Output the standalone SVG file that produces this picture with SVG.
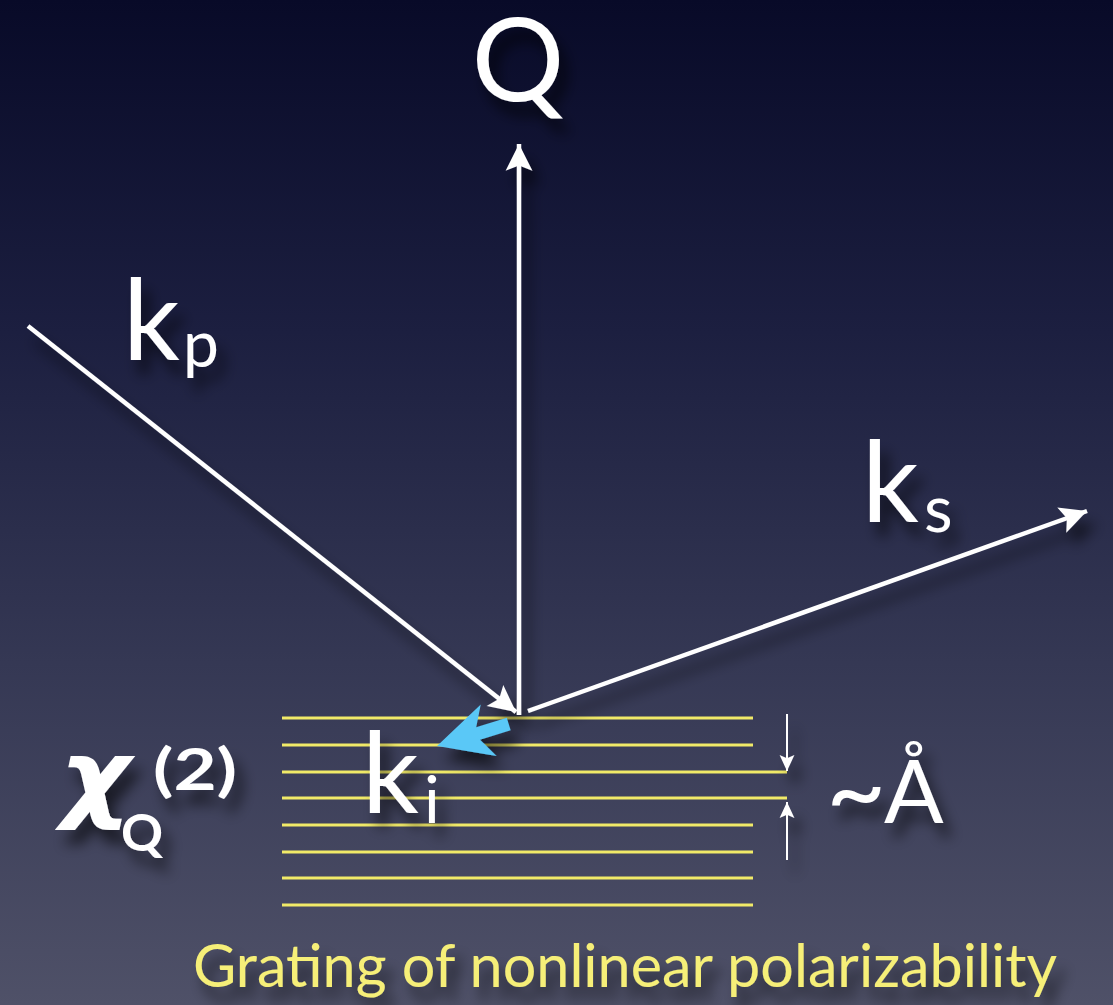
<svg xmlns="http://www.w3.org/2000/svg" width="1113" height="1005" viewBox="0 0 1113 1005">
<defs>
<linearGradient id="bg" x1="0" y1="0" x2="0" y2="1">
<stop offset="0" stop-color="#080a28"/>
<stop offset="0.33" stop-color="#1c1f40"/>
<stop offset="0.66" stop-color="#353854"/>
<stop offset="1" stop-color="#4f5168"/>
</linearGradient>
<filter id="sh" x="-20%" y="-20%" width="150%" height="150%">
<feDropShadow dx="8" dy="14" stdDeviation="7" flood-color="#000" flood-opacity="0.6"/>
</filter>
<marker id="ah" markerUnits="userSpaceOnUse" markerWidth="30" markerHeight="30" viewBox="-26 -14 28 28" refX="0" refY="0" orient="auto">
<path d="M0,0 L-25,-12.5 L-20,0 L-25,12.5 Z" fill="#fff"/>
</marker>
<marker id="ahs" markerUnits="userSpaceOnUse" markerWidth="18" markerHeight="18" viewBox="-16 -8 17 16" refX="0" refY="0" orient="auto">
<path d="M0,0 L-15,-7 L-12,0 L-15,7 Z" fill="#fff"/>
</marker>
<style>
.w{fill:#fff;font-family:Lato,"Open Sans","DejaVu Sans",sans-serif}
.ln{stroke:#fff;stroke-width:4.5;fill:none}
.dim{stroke:#fff;stroke-width:2;fill:none}
.gr{stroke:#f1ea68;stroke-width:3}
</style>
</defs>
<rect width="1113" height="1005" fill="url(#bg)"/>
<g id="grating">
<line class="gr" x1="282" y1="718" x2="753" y2="718"/>
<line class="gr" x1="282" y1="745" x2="753" y2="745"/>
<line class="gr" x1="282" y1="772" x2="787" y2="772"/>
<line class="gr" x1="282" y1="798" x2="787" y2="798"/>
<line class="gr" x1="282" y1="825" x2="753" y2="825"/>
<line class="gr" x1="282" y1="852" x2="753" y2="852"/>
<line class="gr" x1="282" y1="878" x2="753" y2="878"/>
<line class="gr" x1="282" y1="905" x2="753" y2="905"/>
</g>
<g id="connectors" filter="url(#sh)">
<line class="ln" x1="519" y1="715" x2="519" y2="144" marker-end="url(#ah)"/>
<line class="ln" x1="28" y1="326" x2="516" y2="712" marker-end="url(#ah)"/>
<line class="ln" x1="528" y1="711" x2="1087" y2="511" marker-end="url(#ah)"/>
<line class="dim" x1="787" y1="714" x2="787" y2="771" marker-end="url(#ahs)"/>
<line class="dim" x1="787" y1="860" x2="787" y2="802" marker-end="url(#ahs)"/>
</g>
<g id="ki-arrow" filter="url(#sh)">
<polygon transform="translate(437,746) rotate(-17)" points="0,0 54,-27 43,-6.5 75,-6.5 75,6.5 43,6.5 54,27" fill="#5ac8f7"/>
</g>
<g id="label-Q" filter="url(#sh)"><text class="w" x="518" y="101" font-size="116" text-anchor="middle">Q</text></g>
<g id="label-kp" filter="url(#sh)"><text class="w" x="123" y="360" font-size="112">k<tspan x="183" y="367" font-size="64">p</tspan></text></g>
<g id="label-ks" filter="url(#sh)"><text class="w" x="862" y="522" font-size="112">k<tspan x="924" y="532" font-size="66">s</tspan></text></g>
<g id="label-ki" filter="url(#sh)"><text class="w" x="362" y="813" font-size="112">k<tspan x="424" y="823" font-size="66">i</tspan></text></g>
<g id="label-chi" filter="url(#sh)">
<text class="w" x="60" y="810" font-size="98" font-style="italic" font-weight="bold" style="font-family:'DejaVu Sans','Noto Sans',sans-serif" textLength="70" lengthAdjust="spacingAndGlyphs">χ</text>
<text class="w" x="121" y="851" font-size="52" font-weight="bold">Q</text>
<text class="w" x="153" y="790" font-size="58" font-weight="bold" textLength="84" lengthAdjust="spacingAndGlyphs">(2)</text>
</g>
<g id="label-angstrom" filter="url(#sh)">
<text class="w" x="826" y="827" font-size="104">~</text>
<text class="w" x="884" y="823" font-size="88">Å</text>
</g>
<g id="caption" filter="url(#sh)"><text x="193" y="987" font-size="60" fill="#f6ef78" style="font-family:Lato,'Open Sans',sans-serif" textLength="864" lengthAdjust="spacingAndGlyphs">Grating of nonlinear polarizability</text></g>
</svg>
